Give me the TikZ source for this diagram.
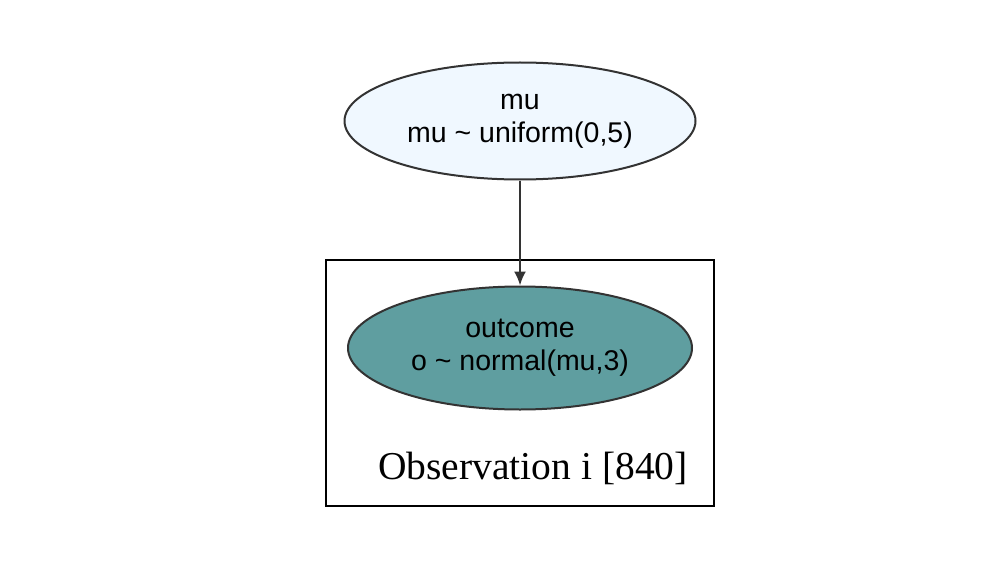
\documentclass[tikz,border=0pt]{standalone}
\usepackage{fontspec}
\setmainfont{Liberation Serif}
\setsansfont{Liberation Sans}
\usepackage{tikz}
\usetikzlibrary{arrows.meta,shapes.geometric}
\definecolor{edgegray}{HTML}{333333}
\definecolor{priorfill}{HTML}{F0F8FF}
\definecolor{obsfill}{HTML}{5F9EA0}

\begin{document}
\begin{tikzpicture}[x=1pt,y=-1pt,->,>={Latex[length=14pt,width=12pt]},line width=2pt,
		rv node/.style={ellipse,draw=edgegray,align=center,inner sep=0pt,
			font=\sffamily\fontsize{28.5}{33}\selectfont},
		plate/.style={draw=black,line width=2.2pt}]
		\useasboundingbox (0,0) rectangle (1000,580);
		\node[rv node,fill=priorfill,minimum width=351pt,minimum height=117pt] (mu) at (520,121) {mu\\mu \textasciitilde{} uniform(0,5)};
		\node[rv node,fill=obsfill,minimum width=344pt,minimum height=123pt] (outcome) at (520,348) {outcome\\o \textasciitilde{} normal(mu,3)};
		\draw[plate,-] (326,260) rectangle (714,506);
		\node[font=\rmfamily\fontsize{39.5}{44}\selectfont] (obslabel) at (533,468) {Observation i [840]};
		\path[every node/.style={font=\sffamily\small}]
		(mu) edge[draw=edgegray] (outcome);
\end{tikzpicture}
\end{document}
